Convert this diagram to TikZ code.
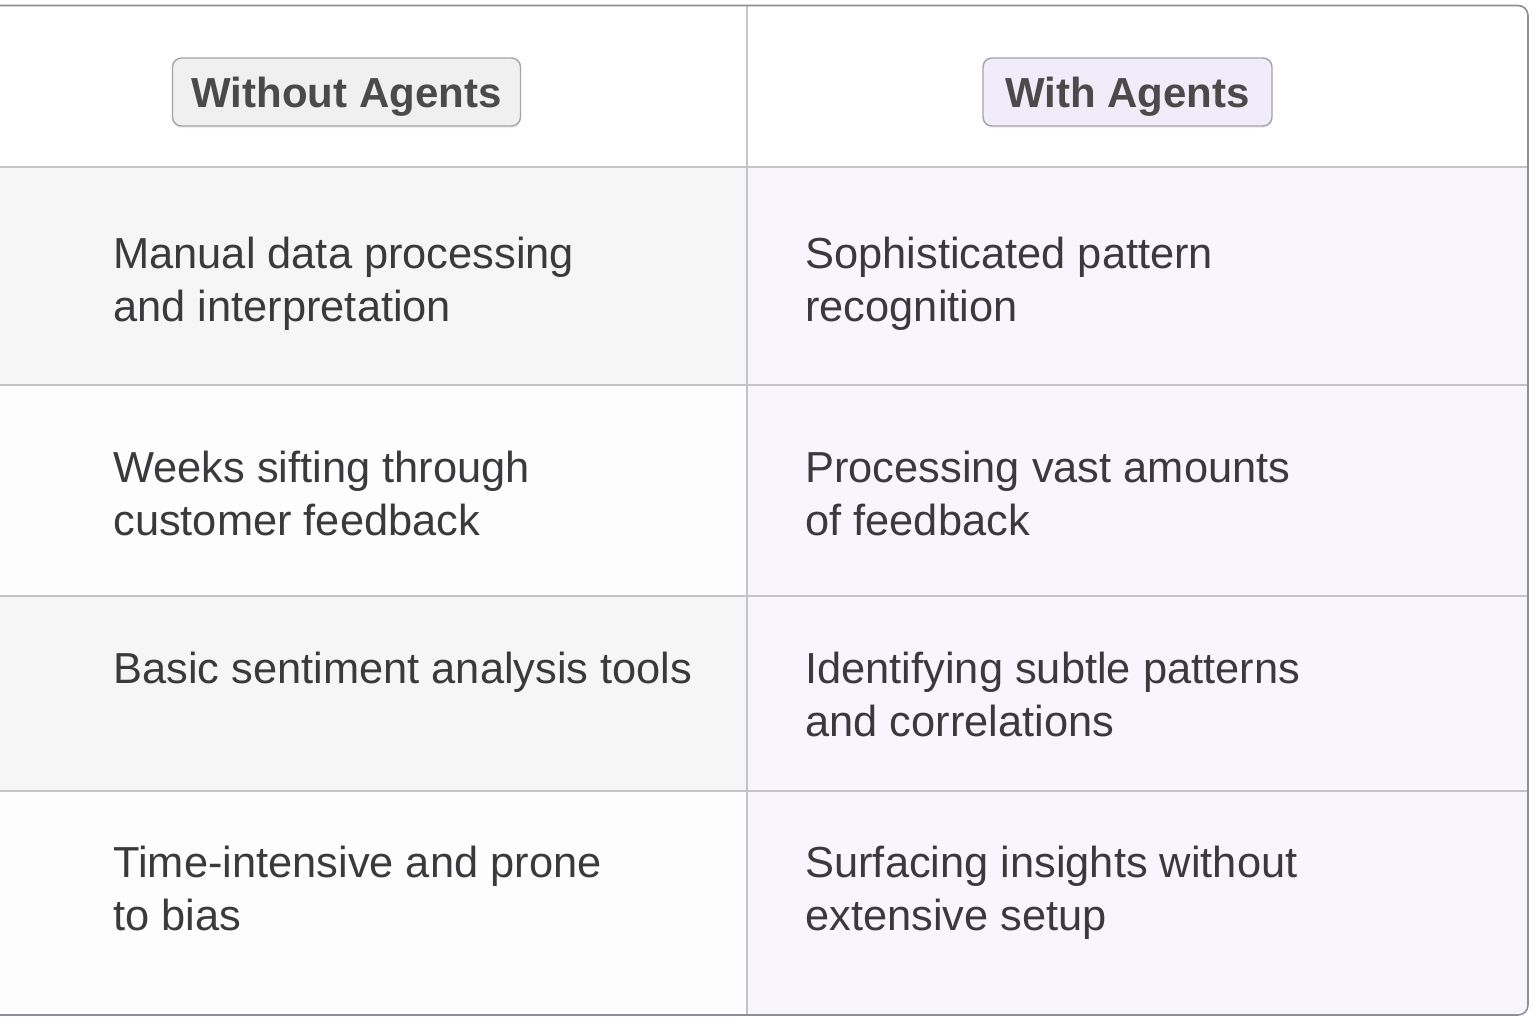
\documentclass[tikz,border=0pt]{standalone}
\usepackage{fontspec}
\setmainfont{Liberation Sans}
\usetikzlibrary{shadows}
\definecolor{txt}{HTML}{3A3A3C}
\definecolor{hdrtxt}{HTML}{4A4A4A}
\definecolor{grayrow}{HTML}{F6F6F6}
\definecolor{whiterow}{HTML}{FDFDFD}
\definecolor{lavrow}{HTML}{F8F5FC}
\definecolor{gridline}{HTML}{C4C4C8}
\definecolor{outerline}{HTML}{8E8E96}
\definecolor{btngray}{HTML}{F0F0F0}
\definecolor{btnlav}{HTML}{F1ECFA}
\definecolor{btnline}{HTML}{A4A4AA}
\tikzset{
  x=0.5pt, y=-0.5pt,
  gridrule/.style={draw=gridline, line width=0.7pt},
  hdrbtn/.style={draw=btnline, line width=0.7pt, rounded corners=4.5pt,
    minimum height=34pt, inner sep=0pt, text=hdrtxt,
    text height=15.2pt, text depth=0pt,
    font=\bfseries\fontsize{21}{25}\selectfont,
    drop shadow={opacity=0.12, shadow xshift=0pt, shadow yshift=-1pt}},
  celltext/.style={anchor=north west, inner sep=0pt, align=left, text=txt,
    font=\fontsize{21.7}{26.5}\selectfont}
}
\begin{document}
\begin{tikzpicture}
\useasboundingbox (0,0) rectangle (1536,1024);
\fill[white] (0,0) rectangle (1536,1024);
\begin{scope}
  \clip[rounded corners=5pt] (-30,5.5) rectangle (1528,1015);
  \fill[white] (-30,5.5) rectangle (1528,167);
  \fill[grayrow] (-30,167) rectangle (747,385);
  \fill[whiterow] (-30,385) rectangle (747,596);
  \fill[grayrow] (-30,596) rectangle (747,791);
  \fill[whiterow] (-30,791) rectangle (747,1015);
  \fill[lavrow] (747,167) rectangle (1528,1015);
  \coordinate (h1l) at (-30,167);  \coordinate (h1r) at (1528,167);
  \coordinate (h2l) at (-30,385);  \coordinate (h2r) at (1528,385);
  \coordinate (h3l) at (-30,596);  \coordinate (h3r) at (1528,596);
  \coordinate (h4l) at (-30,791);  \coordinate (h4r) at (1528,791);
  \coordinate (vt) at (747,5.5);   \coordinate (vb) at (747,1015);
  \draw[gridrule] (h1l) -- (h1r);
  \draw[gridrule] (h2l) -- (h2r);
  \draw[gridrule] (h3l) -- (h3r);
  \draw[gridrule] (h4l) -- (h4r);
  \draw[gridrule] (vt) -- (vb);
\end{scope}
\draw[outerline, line width=0.8pt, rounded corners=5pt] (-30,5.5) rectangle (1528,1015);

\node[hdrbtn, fill=btngray, minimum width=174pt] (hwithout) at (346.5,92) {Without Agents};
\node[hdrbtn, fill=btnlav, minimum width=144.5pt] (hwith) at (1127.5,92) {With Agents};

\node[celltext] (l1) at (113,231) {\strut Manual data processing\\\strut and interpretation};
\node[celltext] (r1) at (805,231) {\strut Sophisticated pattern\\\strut recognition};
\node[celltext] (l2) at (113,445) {\strut Weeks sifting through\\\strut customer feedback};
\node[celltext] (r2) at (805,445) {\strut Processing vast amounts\\\strut of feedback};
\node[celltext] (l3) at (113,646) {\strut Basic sentiment analysis tools};
\node[celltext] (r3) at (805,646) {\strut Identifying subtle patterns\\\strut and correlations};
\node[celltext] (l4) at (113,840) {\strut Time-intensive and prone\\\strut to bias};
\node[celltext] (r4) at (805,840) {\strut Surfacing insights without\\\strut extensive setup};
\end{tikzpicture}
\end{document}
